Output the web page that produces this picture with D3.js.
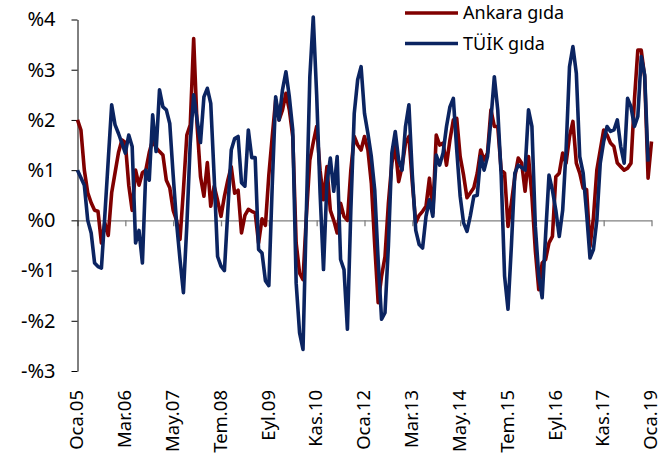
<!DOCTYPE html>
<html>
<head>
<meta charset="utf-8">
<script src="https://cdnjs.cloudflare.com/ajax/libs/d3/7.8.5/d3.min.js"></script>
<style>
    body { margin: 0; background: #fff; }
    svg text { font-family: "Noto Sans", "Open Sans", sans-serif; fill: #000; }
</style>
</head>
<body>
<script>
// monthly food price change, Ankara vs TUIK, Oca.05 - Oca.19
(function(){
    var monthNames = ["Oca","Şub","Mar","Nis","May","Haz","Tem","Ağu","Eyl","Eki","Kas","Ara"];

    var tickLabels = ["Oca.05","Mar.06","May.07","Tem.08","Eyl.09","Kas.10","Oca.12",
                      "Mar.13","May.14","Tem.15","Eyl.16","Kas.17","Oca.19"];

    var yTicks = [-3, -2, -1, 0, 1, 2, 3, 4];

    var seriesNames = ["Ankara gıda", "TÜİK gıda"];

    // Ankara gida, % monthly change
    var ankara = [
        2.0, 1.8, 1.0, 0.55, 0.35, 0.2, 0.18, -0.45, -0.05, -0.3, 0.55, 0.95,
        1.35, 1.6, 1.55, 0.7, 0.2, 1.0, 0.7, 0.95, 1.0, 1.35, 1.6, 1.45,
        1.37, 1.3, 0.8, 0.65, 0.2, 0.0, -0.38, 0.6, 1.7, 1.9, 3.62, 1.9,
        0.87, 0.48, 1.15, 0.28, 0.68, 0.4, 0.08, 0.48, 0.8, 1.07, 0.54, 0.6,
        -0.25, 0.1, 0.22, 0.18, 0.15, -0.45, 0.03, -0.1, 0.9, 1.67, 2.4, 2.0,
        2.2, 2.53, 2.2, 1.67, -0.45, -1.05, -1.18, 0.1, 1.2, 1.55, 1.87, 1.0,
        0.41, 1.07, 0.2, 0.0, -0.25, 0.34, 0.08, 0.0, 1.0, 1.67, 1.5, 1.4,
        1.67, 1.4, 0.74, -0.5, -1.64, -1.11, -0.72, 0.35, 1.14, 1.47, 0.77, 1.07,
        1.54, 1.67, 0.74, -0.05, 0.1, 0.18, 0.28, 0.84, 0.15, 1.7, 1.5, 1.54,
        1.1, 1.6, 2.0, 2.03, 1.27, 0.9, 0.45, 0.55, 0.65, 0.94, 1.4, 1.2,
        1.34, 2.2, 1.87, 1.87, 1.0, 0.94, -0.12, 0.35, 0.87, 1.24, 1.14, 0.58,
        1.27, 0.48, -0.6, -1.38, -0.85, -0.78, -0.45, -0.32, 0.87, 0.94, 1.34, 1.14,
        1.67, 1.97, 1.14, 0.94, 0.64, 0.61, -0.52, 0.05, 1.0, 1.4, 1.8, 1.7,
        1.54, 1.47, 1.14, 1.07, 1.0, 1.04, 1.14, 2.4, 3.39, 3.39, 2.86, 0.84,
        1.57
    ];

    // TUIK gida, % monthly change (ends one month earlier)
    var tuik = [
        1.0, 0.85, 0.7, 0.0, -0.25, -0.85, -0.92, -0.95, 0.1, 1.2, 2.3, 1.9,
        1.73, 1.54, 1.34, 1.7, 1.47, -0.45, -0.2, -0.85, 1.0, 0.8, 2.1, 1.37,
        2.6, 2.26, 2.2, 1.93, 0.9, -0.05, -0.78, -1.44, -0.1, 1.54, 2.5, 2.0,
        1.55, 2.46, 2.63, 2.33, 0.87, -0.72, -0.91, -1.0, 0.2, 1.4, 1.63, 1.67,
        0.75, 0.68, 1.8, 1.25, 1.25, -0.58, -0.65, -1.2, -1.3, 0.7, 2.46, 2.0,
        2.6, 2.96, 2.46, 1.8, -1.25, -2.24, -2.57, 0.2, 2.86, 4.05, 2.5, 0.54,
        -0.98, 0.74, 1.24, 0.58, 1.27, -0.78, -0.98, -2.17, 0.2, 2.13, 2.8, 3.06,
        2.13, 1.73, 1.27, 0.6, -0.8, -1.97, -1.84, -0.5, 1.34, 1.77, 1.2, 1.0,
        1.87, 2.3, 0.9, -0.2, -0.48, -0.55, 0.08, 0.41, 0.08, 1.3, 1.1, 1.34,
        1.87, 2.26, 2.43, 1.4, 0.48, -0.05, -0.22, 0.1, 0.48, 0.5, 1.27, 1.0,
        1.27, 2.0, 2.86, 2.2, 0.9, -1.11, -1.77, -0.5, 0.94, 1.1, 1.05, 1.0,
        2.2, 1.87, -0.12, -1.11, -1.54, -0.3, 0.9, 0.6, 0.2, -0.32, 0.2, 1.4,
        3.06, 3.46, 2.93, 1.27, 0.94, 0.15, -0.75, -0.58, 0.0, 1.14, 1.57, 1.87,
        1.77, 1.8, 2.0, 1.47, 1.14, 2.43, 2.26, 1.87, 2.07, 3.26, 2.9, 1.17
    ];

    var colors = ["#800000", "#0b2461"];

    // category labels Oca.05 ... Oca.19
    var categories = [];
    for (var yr = 5; yr <= 19; yr++){
        for (var m = 0; m < 12; m++){
            if (yr == 19 && m > 0) break;
            categories.push(monthNames[m] + "." + (yr < 10 ? "0" + yr : yr));
        }
    }

    var width = 667,
        height = 455;

    var svg = d3.select("body")
        .append("svg")
        .attr("width", width)
        .attr("height", height);

    var x = d3.scalePoint()
        .domain(categories)
        .range([77.5, 651.5]);

    var y = d3.scaleLinear()
        .domain([-3, 4])
        .range([371, 19.5]);

    // zero line with small ticks
    var xAxis = svg.append("g")
        .attr("transform", "translate(0," + y(0) + ")")
        .call(d3.axisBottom(x)
            .tickValues(tickLabels)
            .tickSize(6)
            .tickSizeOuter(0)
            .tickFormat(""));
    xAxis.selectAll("path, line").attr("stroke", "#808080").attr("stroke-width", 1.3);

    // rotated month labels at the bottom
    var xLabels = svg.append("g")
        .attr("transform", "translate(0,390)")
        .call(d3.axisBottom(x)
            .tickValues(tickLabels)
            .tickSize(0)
            .tickPadding(0));
    xLabels.select(".domain").remove();
    xLabels.selectAll("text")
        .attr("transform", "rotate(-90)")
        .attr("text-anchor", "end")
        .attr("x", 0)
        .attr("y", 0)
        .attr("dy", "0.28em")
        .style("font-size", "18.5px");

    // y axis
    var yAxis = svg.append("g")
        .attr("transform", "translate(77.5,0)")
        .call(d3.axisLeft(y)
            .tickValues(yTicks)
            .tickSize(6)
            .tickSizeOuter(0)
            .tickPadding(16)
            .tickFormat(function(v){ return v < 0 ? "-%" + (-v) : "%" + v; }));
    yAxis.selectAll("path, line").attr("stroke", "#000").attr("stroke-width", 1);
    yAxis.selectAll("text").style("font-size", "20px");

    var line = d3.line()
        .x(function(d, i){ return x(categories[i]); })
        .y(function(d){ return y(d); });

    [ankara, tuik].forEach(function(series, k){
        svg.append("path")
            .datum(series)
            .attr("fill", "none")
            .attr("stroke", colors[k])
            .attr("stroke-width", 3.6)
            .attr("stroke-linejoin", "round")
            .attr("d", line);
    });

    // legend
    var legend = svg.append("g")
        .attr("transform", "translate(405,13)");
    seriesNames.forEach(function(name, k){
        legend.append("line")
            .attr("x1", 0).attr("x2", 53)
            .attr("y1", k * 30.5).attr("y2", k * 30.5)
            .attr("stroke", colors[k])
            .attr("stroke-width", 3.6);
        legend.append("text")
            .attr("x", 58)
            .attr("y", k * 30.5)
            .attr("dy", "0.35em")
            .style("font-size", "18px")
            .text(name);
    });
})();
</script>
</body>
</html>
